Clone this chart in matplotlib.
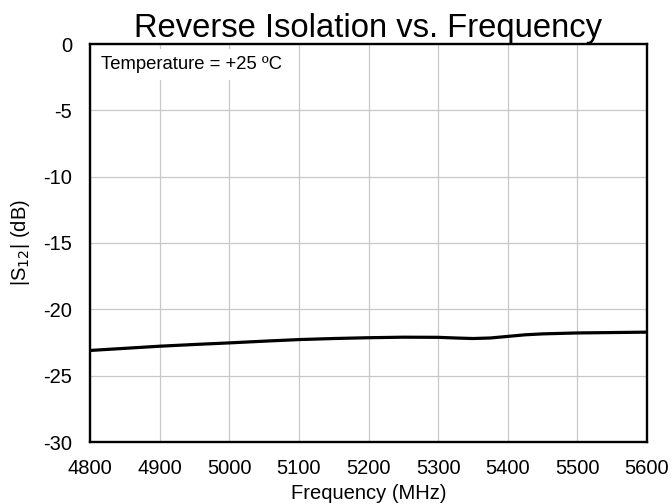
import matplotlib
matplotlib.use("Agg")
import matplotlib.pyplot as plt

plt.rcParams['font.family'] = ['Liberation Sans', 'DejaVu Sans']
plt.rcParams['axes.unicode_minus'] = False

freq = [4800, 4850, 4900, 4950, 5000, 5050, 5100, 5150, 5200, 5250, 5300,
        5325, 5350, 5375, 5400, 5425, 5450, 5500, 5550, 5600]
s12 = [-23.1, -22.94, -22.78, -22.65, -22.53, -22.4, -22.28, -22.2, -22.14, -22.1, -22.11,
       -22.16, -22.2, -22.16, -22.04, -21.92, -21.85, -21.78, -21.75, -21.72]

xticks = [4800, 4900, 5000, 5100, 5200, 5300, 5400, 5500, 5600]
yticks = [0, -5, -10, -15, -20, -25, -30]

fig = plt.figure(figsize=(6.72, 5.04), dpi=100)
L, R, T, B = 90, 647, 44, 442
ax = fig.add_axes([L/672, 1 - B/504, (R-L)/672, (B-T)/504])
ax.plot(freq, s12, color='black', lw=2.3, zorder=3, solid_joinstyle='round')
ax.set_xlim(4800, 5600)
ax.set_ylim(-30, 0)
ax.set_xticks(xticks)
ax.set_yticks(yticks)
ax.grid(True, color='#c8c8c8', lw=0.9, zorder=0)
ax.set_axisbelow(True)
ax.tick_params(length=0, labelsize=14.5)
ax.tick_params(axis='x', pad=12)
ax.tick_params(axis='y', pad=13)
for s in ax.spines.values():
    s.set_linewidth(1.7)
    s.set_color('black')
ax.set_xlabel('Frequency (MHz)', fontsize=14.5, labelpad=4.5)
ax.set_ylabel(r'|S$_{12}$| (dB)', fontsize=14.5, labelpad=8)
ax.set_title('Reverse Isolation vs. Frequency', fontsize=23.6, pad=0)
ax.text(0.02, 0.97, 'Temperature = +25 ºC', transform=ax.transAxes, fontsize=13.3,
        va='top', ha='left', zorder=4,
        bbox=dict(facecolor='white', edgecolor='none', pad=5))
fig.savefig('out.png', dpi=100)
